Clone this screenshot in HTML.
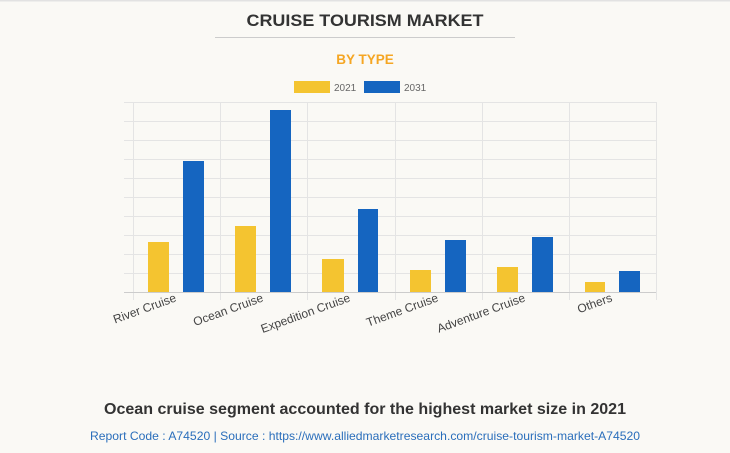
<!DOCTYPE html>
<html><head><meta charset="utf-8"><style>
html,body{margin:0;padding:0;background:#faf9f5;}
svg{display:block;font-family:"Liberation Sans",Arial,sans-serif;}
</style></head><body>
<svg width="730" height="453" viewBox="0 0 730 453">
<rect x="0" y="0" width="730" height="453" fill="#faf9f5"/>
<rect x="0" y="0" width="730" height="1.5" fill="#e2e2e2"/>
<text x="365" y="26" text-anchor="middle" font-size="17" font-weight="bold" fill="#333" textLength="237" lengthAdjust="spacingAndGlyphs">CRUISE TOURISM MARKET</text>
<rect x="215" y="37" width="300" height="1" fill="#ccc"/>
<text x="365" y="64" text-anchor="middle" font-size="13.5" font-weight="bold" fill="#f5a623">BY TYPE</text>
<rect x="294" y="81" width="36" height="12" fill="#f4c430"/>
<text x="334" y="91" font-size="10" fill="#666">2021</text>
<rect x="364" y="81" width="36" height="12" fill="#1565c0"/>
<text x="404" y="91" font-size="10" fill="#666">2031</text>
<g stroke="#e4e4e4" stroke-width="1">
<line x1="124" y1="102.5" x2="656" y2="102.5"/>
<line x1="124" y1="121.5" x2="656" y2="121.5"/>
<line x1="124" y1="140.5" x2="656" y2="140.5"/>
<line x1="124" y1="159.5" x2="656" y2="159.5"/>
<line x1="124" y1="178.5" x2="656" y2="178.5"/>
<line x1="124" y1="197.5" x2="656" y2="197.5"/>
<line x1="124" y1="216.5" x2="656" y2="216.5"/>
<line x1="124" y1="235.5" x2="656" y2="235.5"/>
<line x1="124" y1="254.5" x2="656" y2="254.5"/>
<line x1="124" y1="273.5" x2="656" y2="273.5"/>
<line x1="133.5" y1="102" x2="133.5" y2="300"/>
<line x1="220.5" y1="102" x2="220.5" y2="300"/>
<line x1="307.5" y1="102" x2="307.5" y2="300"/>
<line x1="395.5" y1="102" x2="395.5" y2="300"/>
<line x1="482.5" y1="102" x2="482.5" y2="300"/>
<line x1="569.5" y1="102" x2="569.5" y2="300"/>
<line x1="656.5" y1="102" x2="656.5" y2="300"/>
</g>
<line x1="124" y1="292.5" x2="656" y2="292.5" stroke="#ccc"/>
<g fill="#f4c430">
<rect x="148" y="242" width="21" height="50"/>
<rect x="235" y="226" width="21" height="66"/>
<rect x="322" y="259" width="22" height="33"/>
<rect x="410" y="270" width="21" height="22"/>
<rect x="497" y="267" width="21" height="25"/>
<rect x="585" y="282" width="20" height="10"/>
</g>
<g fill="#1565c0">
<rect x="183" y="161" width="21" height="131"/>
<rect x="270" y="110" width="21" height="182"/>
<rect x="358" y="209" width="20" height="83"/>
<rect x="445" y="240" width="21" height="52"/>
<rect x="532" y="237" width="21" height="55"/>
<rect x="619" y="271" width="21" height="21"/>
</g>
<g font-size="12" fill="#444" text-anchor="end">
<text transform="translate(177,301) rotate(-20)">River Cruise</text>
<text transform="translate(264,301) rotate(-20)">Ocean Cruise</text>
<text transform="translate(351,301) rotate(-20)">Expedition Cruise</text>
<text transform="translate(439,301) rotate(-20)">Theme Cruise</text>
<text transform="translate(526,301) rotate(-20)">Adventure Cruise</text>
<text transform="translate(613,301) rotate(-20)">Others</text>
</g>
<text x="365" y="414" text-anchor="middle" font-size="16" font-weight="bold" fill="#333" textLength="522" lengthAdjust="spacingAndGlyphs">Ocean cruise segment accounted for the highest market size in 2021</text>
<text x="365" y="440" text-anchor="middle" font-size="12" fill="#2a6ebb" textLength="550" lengthAdjust="spacingAndGlyphs">Report Code : A74520  |  Source : https://www.alliedmarketresearch.com/cruise-tourism-market-A74520</text>
</svg>
</body></html>
